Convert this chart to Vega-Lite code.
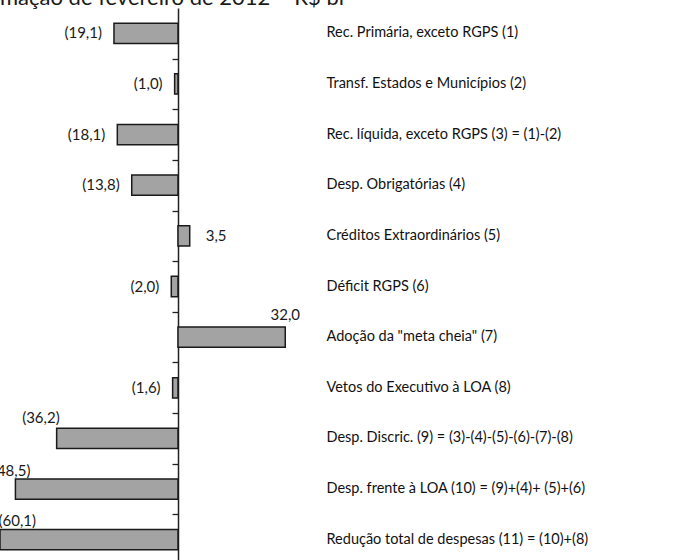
{
  "$schema": "https://vega.github.io/schema/vega-lite/v6.json",
  "width": 300,
  "height": 557,
  "autosize": "none",
  "padding": {"top": 8, "left": 0, "right": 397, "bottom": 0},
  "background": "white",
  "config": {"view": {"stroke": null}, "font": "Lato", "text": {"font": "Lato", "fontSize": 15, "color": "#1a1a1a"}},
  "title": {"text": "mação de fevereiro de 2012 – R$ bi", "anchor": "start", "frame": "group", "offset": -2, "fontSize": 22, "fontWeight": "normal", "font": "Lato", "color": "#1a1a1a"},
  "data": {"values": [
    {"ordem": 1, "categoria": "Rec. Primária, exceto RGPS (1)", "valor": -19.1, "rotulo": "(19,1)"},
    {"ordem": 2, "categoria": "Transf. Estados e Municípios (2)", "valor": -1.0, "rotulo": "(1,0)"},
    {"ordem": 3, "categoria": "Rec. líquida, exceto RGPS (3) = (1)-(2)", "valor": -18.1, "rotulo": "(18,1)"},
    {"ordem": 4, "categoria": "Desp. Obrigatórias (4)", "valor": -13.8, "rotulo": "(13,8)"},
    {"ordem": 5, "categoria": "Créditos Extraordinários (5)", "valor": 3.5, "rotulo": "3,5"},
    {"ordem": 6, "categoria": "Déficit RGPS (6)", "valor": -2.0, "rotulo": "(2,0)"},
    {"ordem": 7, "categoria": "Adoção da \"meta cheia\" (7)", "valor": 32.0, "rotulo": "32,0"},
    {"ordem": 8, "categoria": "Vetos do Executivo à LOA (8)", "valor": -1.6, "rotulo": "(1,6)"},
    {"ordem": 9, "categoria": "Desp. Discric. (9) = (3)-(4)-(5)-(6)-(7)-(8)", "valor": -36.2, "rotulo": "(36,2)"},
    {"ordem": 10, "categoria": "Desp. frente à LOA (10) = (9)+(4)+ (5)+(6)", "valor": -48.5, "rotulo": "(48,5)"},
    {"ordem": 11, "categoria": "Redução total de despesas (11) = (10)+(8)", "valor": -60.1, "rotulo": "(60,1)"}
  ]},
  "encoding": {
    "y": {"field": "categoria", "type": "nominal", "sort": ["Rec. Primária, exceto RGPS (1)", "Transf. Estados e Municípios (2)", "Rec. líquida, exceto RGPS (3) = (1)-(2)", "Desp. Obrigatórias (4)", "Créditos Extraordinários (5)", "Déficit RGPS (6)", "Adoção da \"meta cheia\" (7)", "Vetos do Executivo à LOA (8)", "Desp. Discric. (9) = (3)-(4)-(5)-(6)-(7)-(8)", "Desp. frente à LOA (10) = (9)+(4)+ (5)+(6)", "Redução total de despesas (11) = (10)+(8)"], "scale": {"paddingInner": 0.6, "paddingOuter": 0.3}},
    "x": {"field": "valor", "type": "quantitative", "scale": {"domain": [-53.1, 36.4], "nice": false, "zero": false, "clamp": true}, "axis": null}
  },
  "layer": [
    {
      "mark": {"type": "bar", "fill": "#a3a3a3", "stroke": "#1a1a1a", "strokeWidth": 1.5},
      "encoding": {
        "y": {"field": "categoria", "type": "nominal", "sort": ["Rec. Primária, exceto RGPS (1)", "Transf. Estados e Municípios (2)", "Rec. líquida, exceto RGPS (3) = (1)-(2)", "Desp. Obrigatórias (4)", "Créditos Extraordinários (5)", "Déficit RGPS (6)", "Adoção da \"meta cheia\" (7)", "Vetos do Executivo à LOA (8)", "Desp. Discric. (9) = (3)-(4)-(5)-(6)-(7)-(8)", "Desp. frente à LOA (10) = (9)+(4)+ (5)+(6)", "Redução total de despesas (11) = (10)+(8)"],
          "axis": {"orient": "right", "title": null, "domain": false, "ticks": false, "labelAlign": "left", "labelPadding": 26, "labelFontSize": 14.5, "labelLimit": 0, "labelColor": "#111111", "labelFont": "Lato"}}
      }
    },
    {
      "transform": [{"filter": "datum.ordem <= 8 && datum.ordem != 5 && datum.ordem != 7"}],
      "mark": {"type": "text", "align": "right", "baseline": "middle", "dx": -12},
      "encoding": {
        "text": {"field": "rotulo"},
        "y": {"field": "categoria", "type": "nominal", "sort": ["Rec. Primária, exceto RGPS (1)", "Transf. Estados e Municípios (2)", "Rec. líquida, exceto RGPS (3) = (1)-(2)", "Desp. Obrigatórias (4)", "Créditos Extraordinários (5)", "Déficit RGPS (6)", "Adoção da \"meta cheia\" (7)", "Vetos do Executivo à LOA (8)", "Desp. Discric. (9) = (3)-(4)-(5)-(6)-(7)-(8)", "Desp. frente à LOA (10) = (9)+(4)+ (5)+(6)", "Redução total de despesas (11) = (10)+(8)"],
          "axis": {"orient": "left", "offset": -178, "title": null, "labels": false, "domain": true, "domainColor": "#222222", "domainWidth": 1.5, "ticks": true, "tickOffset": 25.3, "tickSize": 6, "tickColor": "#222222", "tickWidth": 1.3}}
      }
    },
    {
      "transform": [{"filter": "datum.ordem == 5"}],
      "mark": {"type": "text", "align": "left", "baseline": "middle", "dx": 16},
      "encoding": {"text": {"field": "rotulo"}, "y": {"field": "categoria", "type": "nominal", "sort": ["Rec. Primária, exceto RGPS (1)", "Transf. Estados e Municípios (2)", "Rec. líquida, exceto RGPS (3) = (1)-(2)", "Desp. Obrigatórias (4)", "Créditos Extraordinários (5)", "Déficit RGPS (6)", "Adoção da \"meta cheia\" (7)", "Vetos do Executivo à LOA (8)", "Desp. Discric. (9) = (3)-(4)-(5)-(6)-(7)-(8)", "Desp. frente à LOA (10) = (9)+(4)+ (5)+(6)", "Redução total de despesas (11) = (10)+(8)"], "axis": null}}
    },
    {
      "transform": [{"filter": "datum.ordem == 7"}],
      "mark": {"type": "text", "align": "center", "baseline": "bottom", "dy": -14},
      "encoding": {"text": {"field": "rotulo"}, "y": {"field": "categoria", "type": "nominal", "sort": ["Rec. Primária, exceto RGPS (1)", "Transf. Estados e Municípios (2)", "Rec. líquida, exceto RGPS (3) = (1)-(2)", "Desp. Obrigatórias (4)", "Créditos Extraordinários (5)", "Déficit RGPS (6)", "Adoção da \"meta cheia\" (7)", "Vetos do Executivo à LOA (8)", "Desp. Discric. (9) = (3)-(4)-(5)-(6)-(7)-(8)", "Desp. frente à LOA (10) = (9)+(4)+ (5)+(6)", "Redução total de despesas (11) = (10)+(8)"], "axis": null}}
    },
    {
      "transform": [{"filter": "datum.ordem == 9"}],
      "mark": {"type": "text", "align": "right", "baseline": "bottom", "dy": -12, "dx": 3},
      "encoding": {"text": {"field": "rotulo"}, "y": {"field": "categoria", "type": "nominal", "sort": ["Rec. Primária, exceto RGPS (1)", "Transf. Estados e Municípios (2)", "Rec. líquida, exceto RGPS (3) = (1)-(2)", "Desp. Obrigatórias (4)", "Créditos Extraordinários (5)", "Déficit RGPS (6)", "Adoção da \"meta cheia\" (7)", "Vetos do Executivo à LOA (8)", "Desp. Discric. (9) = (3)-(4)-(5)-(6)-(7)-(8)", "Desp. frente à LOA (10) = (9)+(4)+ (5)+(6)", "Redução total de despesas (11) = (10)+(8)"], "axis": null}}
    },
    {
      "transform": [{"filter": "datum.ordem == 10"}],
      "mark": {"type": "text", "align": "right", "baseline": "bottom", "dy": -10, "dx": 15},
      "encoding": {"text": {"field": "rotulo"}, "y": {"field": "categoria", "type": "nominal", "sort": ["Rec. Primária, exceto RGPS (1)", "Transf. Estados e Municípios (2)", "Rec. líquida, exceto RGPS (3) = (1)-(2)", "Desp. Obrigatórias (4)", "Créditos Extraordinários (5)", "Déficit RGPS (6)", "Adoção da \"meta cheia\" (7)", "Vetos do Executivo à LOA (8)", "Desp. Discric. (9) = (3)-(4)-(5)-(6)-(7)-(8)", "Desp. frente à LOA (10) = (9)+(4)+ (5)+(6)", "Redução total de despesas (11) = (10)+(8)"], "axis": null}}
    },
    {
      "transform": [{"filter": "datum.ordem == 11"}],
      "mark": {"type": "text", "align": "right", "baseline": "bottom", "dy": -11, "dx": 36},
      "encoding": {"text": {"field": "rotulo"}, "y": {"field": "categoria", "type": "nominal", "sort": ["Rec. Primária, exceto RGPS (1)", "Transf. Estados e Municípios (2)", "Rec. líquida, exceto RGPS (3) = (1)-(2)", "Desp. Obrigatórias (4)", "Créditos Extraordinários (5)", "Déficit RGPS (6)", "Adoção da \"meta cheia\" (7)", "Vetos do Executivo à LOA (8)", "Desp. Discric. (9) = (3)-(4)-(5)-(6)-(7)-(8)", "Desp. frente à LOA (10) = (9)+(4)+ (5)+(6)", "Redução total de despesas (11) = (10)+(8)"], "axis": null}}
    }
  ],
  "resolve": {"axis": {"y": "independent"}}
}
